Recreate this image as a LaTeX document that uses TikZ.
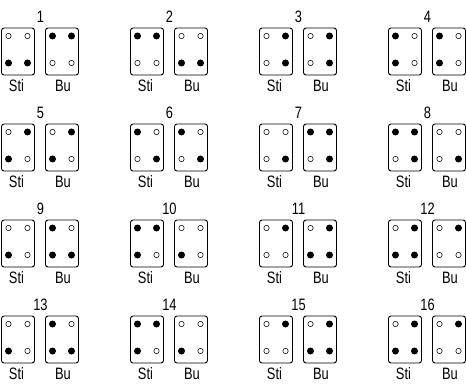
\documentclass[tikz,border=0pt]{standalone}
\usepackage{fontspec}
\setmainfont[FakeStretch=0.78]{Liberation Sans}
\usepackage{tikz}

\begin{document}
\begin{tikzpicture}[x=1pt,y=-1pt,every node/.style={font=\fontsize{16.5}{18}\selectfont},
    cell/.style={draw, line width=0.9pt, rounded corners=2.5pt},
    dot0/.style={draw, line width=0.55pt, radius=2.7pt},
    dot1/.style={fill=black, radius=3.5pt}]
    \useasboundingbox (0,0) rectangle (466,385);

    % number / Sti (TL,TR,BL,BR) / Bu (TL,TR,BL,BR)
    \foreach \n/\a/\b/\c/\d/\e/\f/\g/\h in {
        1/0/0/1/1/1/1/0/0, 2/1/1/0/0/0/0/1/1, 3/0/1/0/1/0/1/0/1, 4/1/0/1/0/1/0/1/0,
        5/0/1/1/0/0/1/1/0, 6/1/0/0/1/1/0/0/1, 7/0/0/0/1/1/1/0/1, 8/1/1/0/1/0/0/0/1,
        9/0/0/1/0/1/0/1/1, 10/1/1/1/0/0/0/1/0, 11/0/1/0/0/0/1/1/1, 12/0/1/1/1/0/1/0/0,
        13/0/0/1/0/1/0/1/1, 14/1/1/1/0/0/0/1/0, 15/0/1/0/0/0/1/1/1, 16/0/1/1/1/0/1/0/0}{
        \pgfmathtruncatemacro{\col}{mod(\n-1,4)}
        \pgfmathtruncatemacro{\row}{(\n-1)/4}
        \pgfmathsetmacro{\xo}{1.5+129*\col}
        \pgfmathsetmacro{\yo}{28+96*\row}
        \begin{scope}[shift={(\xo,\yo)}]
            \draw[cell] (0,0) rectangle (33,47);
            \draw[cell] (44,0) rectangle (77,47);
            \node (num\n) at (39,-11) {\n};
            \node (sti\n) at (15,57.5) {Sti};
            \node (bu\n) at (61.5,57.5) {Bu};
            % Sti dots
            \path[dot\a] (7,8) circle;
            \path[dot\b] (26,8) circle;
            \path[dot\c] (7,35) circle;
            \path[dot\d] (26,35) circle;
            % Bu dots
            \path[dot\e] (51,8) circle;
            \path[dot\f] (70,8) circle;
            \path[dot\g] (51,35) circle;
            \path[dot\h] (70,35) circle;
        \end{scope}
    }
\end{tikzpicture}
\end{document}
